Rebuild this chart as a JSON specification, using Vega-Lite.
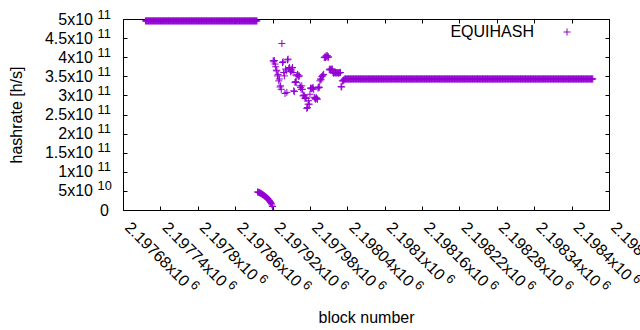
{
"$schema":"https://vega.github.io/schema/vega-lite/v6.json",
"width":486,"height":191,
"autosize":{"type":"none"},
"padding":{"left":123,"top":19,"right":31,"bottom":120},
"background":"white",
"config":{"view":{"stroke":null},
"axis":{"grid":false,"labelFont":"Liberation Sans","titleFont":"Liberation Sans","labelColor":"#000","titleColor":"#000","domainColor":"#000","tickColor":"#000","titleFontWeight":"normal","titleFontSize":16,"labelFontSize":16,"labelFlush":false,"labelOverlap":false,"labelBound":false,"labelLimit":0}},
"data":{"values":[
{"b":2197716,"h":4.95e11},{"b":2197717,"h":4.95e11},{"b":2197718,"h":4.95e11},{"b":2197719,"h":4.95e11},{"b":2197720,"h":4.95e11},{"b":2197721,"h":4.95e11},{"b":2197722,"h":4.95e11},{"b":2197723,"h":4.95e11},{"b":2197724,"h":4.95e11},{"b":2197725,"h":4.95e11},
{"b":2197726,"h":4.95e11},{"b":2197727,"h":4.95e11},{"b":2197728,"h":4.95e11},{"b":2197729,"h":4.95e11},{"b":2197730,"h":4.95e11},{"b":2197731,"h":4.95e11},{"b":2197732,"h":4.95e11},{"b":2197733,"h":4.95e11},{"b":2197734,"h":4.95e11},{"b":2197735,"h":4.95e11},
{"b":2197736,"h":4.95e11},{"b":2197737,"h":4.95e11},{"b":2197738,"h":4.95e11},{"b":2197739,"h":4.95e11},{"b":2197740,"h":4.95e11},{"b":2197741,"h":4.95e11},{"b":2197742,"h":4.95e11},{"b":2197743,"h":4.95e11},{"b":2197744,"h":4.95e11},{"b":2197745,"h":4.95e11},
{"b":2197746,"h":4.95e11},{"b":2197747,"h":4.95e11},{"b":2197748,"h":4.95e11},{"b":2197749,"h":4.95e11},{"b":2197750,"h":4.95e11},{"b":2197751,"h":4.95e11},{"b":2197752,"h":4.95e11},{"b":2197753,"h":4.95e11},{"b":2197754,"h":4.95e11},{"b":2197755,"h":4.95e11},
{"b":2197756,"h":4.95e11},{"b":2197757,"h":4.95e11},{"b":2197758,"h":4.95e11},{"b":2197759,"h":4.95e11},{"b":2197760,"h":4.95e11},{"b":2197761,"h":4.95e11},{"b":2197762,"h":4.95e11},{"b":2197763,"h":4.95e11},{"b":2197764,"h":4.95e11},{"b":2197765,"h":4.95e11},
{"b":2197766,"h":4.95e11},{"b":2197767,"h":4.95e11},{"b":2197768,"h":4.95e11},{"b":2197769,"h":4.95e11},{"b":2197770,"h":4.95e11},{"b":2197771,"h":4.95e11},{"b":2197772,"h":4.95e11},{"b":2197773,"h":4.95e11},{"b":2197774,"h":4.95e11},{"b":2197775,"h":4.95e11},
{"b":2197776,"h":4.95e11},{"b":2197777,"h":4.95e11},{"b":2197778,"h":4.95e11},{"b":2197779,"h":4.95e11},{"b":2197780,"h":4.95e11},{"b":2197781,"h":4.95e11},{"b":2197782,"h":4.95e11},{"b":2197783,"h":4.95e11},{"b":2197784,"h":4.95e11},{"b":2197785,"h":4.95e11},
{"b":2197786,"h":4.95e11},{"b":2197787,"h":4.95e11},{"b":2197788,"h":4.95e11},{"b":2197789,"h":4.95e11},{"b":2197790,"h":4.95e11},{"b":2197791,"h":4.95e11},{"b":2197792,"h":4.95e11},{"b":2197793,"h":4.95e11},{"b":2197794,"h":4.95e11},{"b":2197795,"h":4.95e11},
{"b":2197796,"h":4.95e11},{"b":2197797,"h":4.95e11},{"b":2197798,"h":4.95e11},{"b":2197799,"h":4.95e11},{"b":2197800,"h":4.95e11},{"b":2197801,"h":4.95e11},{"b":2197802,"h":4.95e11},{"b":2197803,"h":4.95e11},{"b":2197804,"h":4.95e11},{"b":2197805,"h":4.95e11},
{"b":2197806,"h":4.95e11},{"b":2197807,"h":4.95e11},{"b":2197808,"h":4.95e11},{"b":2197809,"h":4.95e11},{"b":2197810,"h":4.95e11},{"b":2197811,"h":4.95e11},{"b":2197812,"h":4.95e11},{"b":2197813,"h":4.95e11},{"b":2197814,"h":4.95e11},{"b":2197815,"h":4.95e11},
{"b":2197816,"h":4.95e11},{"b":2197817,"h":4.95e11},{"b":2197818,"h":4.95e11},{"b":2197819,"h":4.95e11},{"b":2197820,"h":4.95e11},{"b":2197821,"h":4.95e11},{"b":2197822,"h":4.95e11},{"b":2197823,"h":4.95e11},{"b":2197824,"h":4.95e11},{"b":2197825,"h":4.95e11},
{"b":2197826,"h":4.95e11},{"b":2197827,"h":4.95e11},{"b":2197828,"h":4.95e11},{"b":2197829,"h":4.95e11},{"b":2197830,"h":4.95e11},{"b":2197831,"h":4.95e11},{"b":2197832,"h":4.95e11},{"b":2197833,"h":4.95e11},{"b":2197834,"h":4.95e11},{"b":2197835,"h":4.95e11},
{"b":2197836,"h":4.95e11},{"b":2197837,"h":4.95e11},{"b":2197838,"h":4.95e11},{"b":2197839,"h":4.95e11},{"b":2197840,"h":4.95e11},{"b":2197841,"h":4.95e11},{"b":2197842,"h":4.95e11},{"b":2197843,"h":4.95e11},{"b":2197844,"h":4.95e11},{"b":2197845,"h":4.95e11},
{"b":2197846,"h":4.95e11},{"b":2197847,"h":4.95e11},{"b":2197848,"h":4.95e11},{"b":2197849,"h":4.95e11},{"b":2197850,"h":4.95e11},{"b":2197851,"h":4.95e11},{"b":2197852,"h":4.95e11},{"b":2197853,"h":4.95e11},{"b":2197854,"h":4.95e11},{"b":2197855,"h":4.95e11},
{"b":2197856,"h":4.95e11},{"b":2197857,"h":4.95e11},{"b":2197858,"h":4.95e11},{"b":2197859,"h":4.95e11},{"b":2197860,"h":4.95e11},{"b":2197861,"h":4.95e11},{"b":2197862,"h":4.95e11},{"b":2197863,"h":4.95e11},{"b":2197864,"h":4.95e11},{"b":2197865,"h":4.95e11},
{"b":2197866,"h":4.95e11},{"b":2197867,"h":4.95e11},{"b":2197868,"h":4.95e11},{"b":2197869,"h":4.95e11},{"b":2197870,"h":4.95e11},{"b":2197871,"h":4.95e11},{"b":2197872,"h":4.95e11},{"b":2197873,"h":4.95e11},{"b":2197874,"h":4.95e11},{"b":2197875,"h":4.95e11},
{"b":2197876,"h":4.95e11},{"b":2197877,"h":4.95e11},{"b":2197878,"h":4.95e11},{"b":2197879,"h":4.95e11},{"b":2197880,"h":4.95e11},{"b":2197881,"h":4.95e11},{"b":2197882,"h":4.95e11},{"b":2197883,"h":4.95e11},{"b":2197884,"h":4.95e11},{"b":2197885,"h":4.95e11},
{"b":2197886,"h":4.95e11},{"b":2197887,"h":4.95e11},{"b":2197888,"h":4.95e11},{"b":2197889,"h":4.95e11},{"b":2197890,"h":4.95e11},{"b":2197891,"h":4.95e11},{"b":2197892,"h":4.95e11},{"b":2197893,"h":4.95e11},{"b":2197894,"h":4.95e11},{"b":2197895,"h":4.95e11},
{"b":2197896,"h":4.72e10},{"b":2197897,"h":4.67e10},{"b":2197898,"h":4.62e10},{"b":2197899,"h":4.54e10},{"b":2197900,"h":4.46e10},{"b":2197901,"h":4.38e10},{"b":2197902,"h":4.28e10},{"b":2197903,"h":4.17e10},{"b":2197904,"h":4.04e10},{"b":2197905,"h":3.94e10},
{"b":2197906,"h":3.83e10},{"b":2197907,"h":3.70e10},{"b":2197908,"h":3.57e10},{"b":2197909,"h":3.46e10},{"b":2197910,"h":3.33e10},{"b":2197911,"h":3.18e10},{"b":2197912,"h":3.02e10},{"b":2197913,"h":2.86e10},{"b":2197914,"h":2.65e10},{"b":2197915,"h":2.44e10},
{"b":2197916,"h":2.23e10},{"b":2197917,"h":1.97e10},{"b":2197918,"h":1.68e10},{"b":2197919,"h":1.31e10},{"b":2197920,"h":9.2e9},
{"b":2197921,"h":3.91e11},{"b":2197922,"h":3.88e11},{"b":2197923,"h":3.91e11},{"b":2197924,"h":3.82e11},{"b":2197925,"h":3.75e11},{"b":2197926,"h":3.66e11},{"b":2197927,"h":3.64e11},{"b":2197928,"h":3.51e11},{"b":2197929,"h":3.55e11},{"b":2197930,"h":3.38e11},
{"b":2197931,"h":3.43e11},{"b":2197932,"h":3.22e11},{"b":2197933,"h":3.25e11},{"b":2197934,"h":3.16e11},{"b":2197935,"h":4.36e11},{"b":2197936,"h":3.86e11},{"b":2197937,"h":3.88e11},{"b":2197938,"h":3.60e11},{"b":2197939,"h":3.51e11},{"b":2197940,"h":3.05e11},
{"b":2197941,"h":3.69e11},{"b":2197942,"h":3.64e11},{"b":2197943,"h":3.08e11},{"b":2197944,"h":3.93e11},{"b":2197945,"h":3.95e11},{"b":2197946,"h":3.70e11},{"b":2197947,"h":3.73e11},{"b":2197948,"h":3.69e11},{"b":2197949,"h":3.62e11},{"b":2197950,"h":3.64e11},
{"b":2197951,"h":3.69e11},{"b":2197952,"h":3.73e11},{"b":2197953,"h":3.60e11},{"b":2197954,"h":3.12e11},{"b":2197955,"h":3.10e11},{"b":2197956,"h":3.34e11},{"b":2197957,"h":3.36e11},{"b":2197958,"h":3.34e11},{"b":2197959,"h":3.51e11},{"b":2197960,"h":3.55e11},
{"b":2197961,"h":3.53e11},{"b":2197962,"h":3.49e11},{"b":2197963,"h":3.51e11},{"b":2197964,"h":3.25e11},{"b":2197965,"h":3.21e11},{"b":2197966,"h":3.16e11},{"b":2197967,"h":3.25e11},{"b":2197968,"h":3.16e11},{"b":2197969,"h":2.99e11},{"b":2197970,"h":3.01e11},
{"b":2197971,"h":2.99e11},{"b":2197972,"h":2.92e11},{"b":2197973,"h":2.95e11},{"b":2197974,"h":2.92e11},{"b":2197975,"h":2.66e11},{"b":2197976,"h":2.68e11},{"b":2197977,"h":2.77e11},{"b":2197978,"h":2.86e11},{"b":2197979,"h":2.77e11},{"b":2197980,"h":3.03e11},
{"b":2197981,"h":3.19e11},{"b":2197982,"h":3.19e11},{"b":2197983,"h":3.17e11},{"b":2197984,"h":3.19e11},{"b":2197985,"h":3.21e11},{"b":2197986,"h":3.16e11},{"b":2197987,"h":2.95e11},{"b":2197988,"h":2.92e11},{"b":2197989,"h":2.90e11},{"b":2197990,"h":2.95e11},
{"b":2197991,"h":2.92e11},{"b":2197992,"h":2.90e11},{"b":2197993,"h":3.19e11},{"b":2197994,"h":3.22e11},{"b":2197995,"h":3.21e11},{"b":2197996,"h":3.38e11},{"b":2197997,"h":3.43e11},{"b":2197998,"h":3.41e11},{"b":2197999,"h":3.49e11},{"b":2198000,"h":3.51e11},
{"b":2198001,"h":3.53e11},{"b":2198002,"h":3.55e11},{"b":2198003,"h":3.99e11},{"b":2198004,"h":4.01e11},{"b":2198005,"h":3.99e11},{"b":2198006,"h":4.04e11},{"b":2198007,"h":4.01e11},{"b":2198008,"h":4.04e11},{"b":2198009,"h":3.99e11},{"b":2198010,"h":4.01e11},
{"b":2198011,"h":3.67e11},{"b":2198012,"h":3.69e11},{"b":2198013,"h":3.67e11},{"b":2198014,"h":3.69e11},{"b":2198015,"h":3.67e11},{"b":2198016,"h":3.69e11},{"b":2198017,"h":3.60e11},{"b":2198018,"h":3.58e11},{"b":2198019,"h":3.60e11},{"b":2198020,"h":3.59e11},
{"b":2198021,"h":3.60e11},{"b":2198022,"h":3.58e11},{"b":2198023,"h":3.60e11},{"b":2198024,"h":3.59e11},{"b":2198025,"h":3.60e11},{"b":2198026,"h":3.58e11},{"b":2198027,"h":3.60e11},{"b":2198028,"h":3.59e11},{"b":2198029,"h":3.60e11},{"b":2198030,"h":3.23e11},
{"b":2198031,"h":3.22e11},{"b":2198032,"h":3.38e11},{"b":2198033,"h":3.38e11},{"b":2198034,"h":3.40e11},{"b":2198035,"h":3.41e11},{"b":2198036,"h":3.43e11},
{"b":2198037,"h":3.43e11},{"b":2198038,"h":3.43e11},{"b":2198039,"h":3.43e11},{"b":2198040,"h":3.43e11},{"b":2198041,"h":3.43e11},{"b":2198042,"h":3.43e11},{"b":2198043,"h":3.43e11},{"b":2198044,"h":3.43e11},{"b":2198045,"h":3.43e11},{"b":2198046,"h":3.43e11},
{"b":2198047,"h":3.43e11},{"b":2198048,"h":3.43e11},{"b":2198049,"h":3.43e11},{"b":2198050,"h":3.43e11},{"b":2198051,"h":3.43e11},{"b":2198052,"h":3.43e11},{"b":2198053,"h":3.43e11},{"b":2198054,"h":3.43e11},{"b":2198055,"h":3.43e11},{"b":2198056,"h":3.43e11},
{"b":2198057,"h":3.43e11},{"b":2198058,"h":3.43e11},{"b":2198059,"h":3.43e11},{"b":2198060,"h":3.43e11},{"b":2198061,"h":3.43e11},{"b":2198062,"h":3.43e11},{"b":2198063,"h":3.43e11},{"b":2198064,"h":3.43e11},{"b":2198065,"h":3.43e11},{"b":2198066,"h":3.43e11},
{"b":2198067,"h":3.43e11},{"b":2198068,"h":3.43e11},{"b":2198069,"h":3.43e11},{"b":2198070,"h":3.43e11},{"b":2198071,"h":3.43e11},{"b":2198072,"h":3.43e11},{"b":2198073,"h":3.43e11},{"b":2198074,"h":3.43e11},{"b":2198075,"h":3.43e11},{"b":2198076,"h":3.43e11},
{"b":2198077,"h":3.43e11},{"b":2198078,"h":3.43e11},{"b":2198079,"h":3.43e11},{"b":2198080,"h":3.43e11},{"b":2198081,"h":3.43e11},{"b":2198082,"h":3.43e11},{"b":2198083,"h":3.43e11},{"b":2198084,"h":3.43e11},{"b":2198085,"h":3.43e11},{"b":2198086,"h":3.43e11},
{"b":2198087,"h":3.43e11},{"b":2198088,"h":3.43e11},{"b":2198089,"h":3.43e11},{"b":2198090,"h":3.43e11},{"b":2198091,"h":3.43e11},{"b":2198092,"h":3.43e11},{"b":2198093,"h":3.43e11},{"b":2198094,"h":3.43e11},{"b":2198095,"h":3.43e11},{"b":2198096,"h":3.43e11},
{"b":2198097,"h":3.43e11},{"b":2198098,"h":3.43e11},{"b":2198099,"h":3.43e11},{"b":2198100,"h":3.43e11},{"b":2198101,"h":3.43e11},{"b":2198102,"h":3.43e11},{"b":2198103,"h":3.43e11},{"b":2198104,"h":3.43e11},{"b":2198105,"h":3.43e11},{"b":2198106,"h":3.43e11},
{"b":2198107,"h":3.43e11},{"b":2198108,"h":3.43e11},{"b":2198109,"h":3.43e11},{"b":2198110,"h":3.43e11},{"b":2198111,"h":3.43e11},{"b":2198112,"h":3.43e11},{"b":2198113,"h":3.43e11},{"b":2198114,"h":3.43e11},{"b":2198115,"h":3.43e11},{"b":2198116,"h":3.43e11},
{"b":2198117,"h":3.43e11},{"b":2198118,"h":3.43e11},{"b":2198119,"h":3.43e11},{"b":2198120,"h":3.43e11},{"b":2198121,"h":3.43e11},{"b":2198122,"h":3.43e11},{"b":2198123,"h":3.43e11},{"b":2198124,"h":3.43e11},{"b":2198125,"h":3.43e11},{"b":2198126,"h":3.43e11},
{"b":2198127,"h":3.43e11},{"b":2198128,"h":3.43e11},{"b":2198129,"h":3.43e11},{"b":2198130,"h":3.43e11},{"b":2198131,"h":3.43e11},{"b":2198132,"h":3.43e11},{"b":2198133,"h":3.43e11},{"b":2198134,"h":3.43e11},{"b":2198135,"h":3.43e11},{"b":2198136,"h":3.43e11},
{"b":2198137,"h":3.43e11},{"b":2198138,"h":3.43e11},{"b":2198139,"h":3.43e11},{"b":2198140,"h":3.43e11},{"b":2198141,"h":3.43e11},{"b":2198142,"h":3.43e11},{"b":2198143,"h":3.43e11},{"b":2198144,"h":3.43e11},{"b":2198145,"h":3.43e11},{"b":2198146,"h":3.43e11},
{"b":2198147,"h":3.43e11},{"b":2198148,"h":3.43e11},{"b":2198149,"h":3.43e11},{"b":2198150,"h":3.43e11},{"b":2198151,"h":3.43e11},{"b":2198152,"h":3.43e11},{"b":2198153,"h":3.43e11},{"b":2198154,"h":3.43e11},{"b":2198155,"h":3.43e11},{"b":2198156,"h":3.43e11},
{"b":2198157,"h":3.43e11},{"b":2198158,"h":3.43e11},{"b":2198159,"h":3.43e11},{"b":2198160,"h":3.43e11},{"b":2198161,"h":3.43e11},{"b":2198162,"h":3.43e11},{"b":2198163,"h":3.43e11},{"b":2198164,"h":3.43e11},{"b":2198165,"h":3.43e11},{"b":2198166,"h":3.43e11},
{"b":2198167,"h":3.43e11},{"b":2198168,"h":3.43e11},{"b":2198169,"h":3.43e11},{"b":2198170,"h":3.43e11},{"b":2198171,"h":3.43e11},{"b":2198172,"h":3.43e11},{"b":2198173,"h":3.43e11},{"b":2198174,"h":3.43e11},{"b":2198175,"h":3.43e11},{"b":2198176,"h":3.43e11},
{"b":2198177,"h":3.43e11},{"b":2198178,"h":3.43e11},{"b":2198179,"h":3.43e11},{"b":2198180,"h":3.43e11},{"b":2198181,"h":3.43e11},{"b":2198182,"h":3.43e11},{"b":2198183,"h":3.43e11},{"b":2198184,"h":3.43e11},{"b":2198185,"h":3.43e11},{"b":2198186,"h":3.43e11},
{"b":2198187,"h":3.43e11},{"b":2198188,"h":3.43e11},{"b":2198189,"h":3.43e11},{"b":2198190,"h":3.43e11},{"b":2198191,"h":3.43e11},{"b":2198192,"h":3.43e11},{"b":2198193,"h":3.43e11},{"b":2198194,"h":3.43e11},{"b":2198195,"h":3.43e11},{"b":2198196,"h":3.43e11},
{"b":2198197,"h":3.43e11},{"b":2198198,"h":3.43e11},{"b":2198199,"h":3.43e11},{"b":2198200,"h":3.43e11},{"b":2198201,"h":3.43e11},{"b":2198202,"h":3.43e11},{"b":2198203,"h":3.43e11},{"b":2198204,"h":3.43e11},{"b":2198205,"h":3.43e11},{"b":2198206,"h":3.43e11},
{"b":2198207,"h":3.43e11},{"b":2198208,"h":3.43e11},{"b":2198209,"h":3.43e11},{"b":2198210,"h":3.43e11},{"b":2198211,"h":3.43e11},{"b":2198212,"h":3.43e11},{"b":2198213,"h":3.43e11},{"b":2198214,"h":3.43e11},{"b":2198215,"h":3.43e11},{"b":2198216,"h":3.43e11},
{"b":2198217,"h":3.43e11},{"b":2198218,"h":3.43e11},{"b":2198219,"h":3.43e11},{"b":2198220,"h":3.43e11},{"b":2198221,"h":3.43e11},{"b":2198222,"h":3.43e11},{"b":2198223,"h":3.43e11},{"b":2198224,"h":3.43e11},{"b":2198225,"h":3.43e11},{"b":2198226,"h":3.43e11},
{"b":2198227,"h":3.43e11},{"b":2198228,"h":3.43e11},{"b":2198229,"h":3.43e11},{"b":2198230,"h":3.43e11},{"b":2198231,"h":3.43e11},{"b":2198232,"h":3.43e11},{"b":2198233,"h":3.43e11},{"b":2198234,"h":3.43e11},{"b":2198235,"h":3.43e11},{"b":2198236,"h":3.43e11},
{"b":2198237,"h":3.43e11},{"b":2198238,"h":3.43e11},{"b":2198239,"h":3.43e11},{"b":2198240,"h":3.43e11},{"b":2198241,"h":3.43e11},{"b":2198242,"h":3.43e11},{"b":2198243,"h":3.43e11},{"b":2198244,"h":3.43e11},{"b":2198245,"h":3.43e11},{"b":2198246,"h":3.43e11},
{"b":2198247,"h":3.43e11},{"b":2198248,"h":3.43e11},{"b":2198249,"h":3.43e11},{"b":2198250,"h":3.43e11},{"b":2198251,"h":3.43e11},{"b":2198252,"h":3.43e11},{"b":2198253,"h":3.43e11},{"b":2198254,"h":3.43e11},{"b":2198255,"h":3.43e11},{"b":2198256,"h":3.43e11},
{"b":2198257,"h":3.43e11},{"b":2198258,"h":3.43e11},{"b":2198259,"h":3.43e11},{"b":2198260,"h":3.43e11},{"b":2198261,"h":3.43e11},{"b":2198262,"h":3.43e11},{"b":2198263,"h":3.43e11},{"b":2198264,"h":3.43e11},{"b":2198265,"h":3.43e11},{"b":2198266,"h":3.43e11},
{"b":2198267,"h":3.43e11},{"b":2198268,"h":3.43e11},{"b":2198269,"h":3.43e11},{"b":2198270,"h":3.43e11},{"b":2198271,"h":3.43e11},{"b":2198272,"h":3.43e11},{"b":2198273,"h":3.43e11},{"b":2198274,"h":3.43e11},{"b":2198275,"h":3.43e11},{"b":2198276,"h":3.43e11},
{"b":2198277,"h":3.43e11},{"b":2198278,"h":3.43e11},{"b":2198279,"h":3.43e11},{"b":2198280,"h":3.43e11},{"b":2198281,"h":3.43e11},{"b":2198282,"h":3.43e11},{"b":2198283,"h":3.43e11},{"b":2198284,"h":3.43e11},{"b":2198285,"h":3.43e11},{"b":2198286,"h":3.43e11},
{"b":2198287,"h":3.43e11},{"b":2198288,"h":3.43e11},{"b":2198289,"h":3.43e11},{"b":2198290,"h":3.43e11},{"b":2198291,"h":3.43e11},{"b":2198292,"h":3.43e11},{"b":2198293,"h":3.43e11},{"b":2198294,"h":3.43e11},{"b":2198295,"h":3.43e11},{"b":2198296,"h":3.43e11},
{"b":2198297,"h":3.43e11},{"b":2198298,"h":3.43e11},{"b":2198299,"h":3.43e11},{"b":2198300,"h":3.43e11},{"b":2198301,"h":3.43e11},{"b":2198302,"h":3.43e11},{"b":2198303,"h":3.43e11},{"b":2198304,"h":3.43e11},{"b":2198305,"h":3.43e11},{"b":2198306,"h":3.43e11},
{"b":2198307,"h":3.43e11},{"b":2198308,"h":3.43e11},{"b":2198309,"h":3.43e11},{"b":2198310,"h":3.43e11},{"b":2198311,"h":3.43e11},{"b":2198312,"h":3.43e11},{"b":2198313,"h":3.43e11},{"b":2198314,"h":3.43e11},{"b":2198315,"h":3.43e11},{"b":2198316,"h":3.43e11},
{"b":2198317,"h":3.43e11},{"b":2198318,"h":3.43e11},{"b":2198319,"h":3.43e11},{"b":2198320,"h":3.43e11},{"b":2198321,"h":3.43e11},{"b":2198322,"h":3.43e11},{"b":2198323,"h":3.43e11},{"b":2198324,"h":3.43e11},{"b":2198325,"h":3.43e11},{"b":2198326,"h":3.43e11},
{"b":2198327,"h":3.43e11},{"b":2198328,"h":3.43e11},{"b":2198329,"h":3.43e11},{"b":2198330,"h":3.43e11},{"b":2198331,"h":3.43e11},{"b":2198332,"h":3.43e11},{"b":2198333,"h":3.43e11},{"b":2198334,"h":3.43e11},{"b":2198335,"h":3.43e11},{"b":2198336,"h":3.43e11},
{"b":2198337,"h":3.43e11},{"b":2198338,"h":3.43e11},{"b":2198339,"h":3.43e11},{"b":2198340,"h":3.43e11},{"b":2198341,"h":3.43e11},{"b":2198342,"h":3.43e11},{"b":2198343,"h":3.43e11},{"b":2198344,"h":3.43e11},{"b":2198345,"h":3.43e11},{"b":2198346,"h":3.43e11},
{"b":2198347,"h":3.43e11},{"b":2198348,"h":3.43e11},{"b":2198349,"h":3.43e11},{"b":2198350,"h":3.43e11},{"b":2198351,"h":3.43e11},{"b":2198352,"h":3.43e11},{"b":2198353,"h":3.43e11},{"b":2198354,"h":3.43e11},{"b":2198355,"h":3.43e11},{"b":2198356,"h":3.43e11},
{"b":2198357,"h":3.43e11},{"b":2198358,"h":3.43e11},{"b":2198359,"h":3.43e11},{"b":2198360,"h":3.43e11},{"b":2198361,"h":3.43e11},{"b":2198362,"h":3.43e11},{"b":2198363,"h":3.43e11},{"b":2198364,"h":3.43e11},{"b":2198365,"h":3.43e11},{"b":2198366,"h":3.43e11},
{"b":2198367,"h":3.43e11},{"b":2198368,"h":3.43e11},{"b":2198369,"h":3.43e11},{"b":2198370,"h":3.43e11},{"b":2198371,"h":3.43e11},{"b":2198372,"h":3.43e11},{"b":2198373,"h":3.43e11},{"b":2198374,"h":3.43e11},{"b":2198375,"h":3.43e11},{"b":2198376,"h":3.43e11},
{"b":2198377,"h":3.43e11},{"b":2198378,"h":3.43e11},{"b":2198379,"h":3.43e11},{"b":2198380,"h":3.43e11},{"b":2198381,"h":3.43e11},{"b":2198382,"h":3.43e11},{"b":2198383,"h":3.43e11},{"b":2198384,"h":3.43e11},{"b":2198385,"h":3.43e11},{"b":2198386,"h":3.43e11},
{"b":2198387,"h":3.43e11},{"b":2198388,"h":3.43e11},{"b":2198389,"h":3.43e11},{"b":2198390,"h":3.43e11},{"b":2198391,"h":3.43e11},{"b":2198392,"h":3.43e11},{"b":2198393,"h":3.43e11},{"b":2198394,"h":3.43e11},{"b":2198395,"h":3.43e11},{"b":2198396,"h":3.43e11},
{"b":2198397,"h":3.43e11},{"b":2198398,"h":3.43e11},{"b":2198399,"h":3.43e11},{"b":2198400,"h":3.43e11},{"b":2198401,"h":3.43e11},{"b":2198402,"h":3.43e11},{"b":2198403,"h":3.43e11},{"b":2198404,"h":3.43e11},{"b":2198405,"h":3.43e11},{"b":2198406,"h":3.43e11},
{"b":2198407,"h":3.43e11},{"b":2198408,"h":3.43e11},{"b":2198409,"h":3.43e11},{"b":2198410,"h":3.43e11},{"b":2198411,"h":3.43e11},{"b":2198412,"h":3.43e11},{"b":2198413,"h":3.43e11},{"b":2198414,"h":3.43e11},{"b":2198415,"h":3.43e11},{"b":2198416,"h":3.43e11},
{"b":2198417,"h":3.43e11},{"b":2198418,"h":3.43e11},{"b":2198419,"h":3.43e11},{"b":2198420,"h":3.43e11},{"b":2198421,"h":3.43e11},{"b":2198422,"h":3.43e11},{"b":2198423,"h":3.43e11},{"b":2198424,"h":3.43e11},{"b":2198425,"h":3.43e11},{"b":2198426,"h":3.43e11},
{"b":2198427,"h":3.43e11},{"b":2198428,"h":3.43e11},{"b":2198429,"h":3.43e11},{"b":2198430,"h":3.43e11},{"b":2198431,"h":3.43e11},{"b":2198432,"h":3.43e11},{"b":2198433,"h":3.43e11},{"b":2198434,"h":3.43e11}
]},
"encoding":{
"x":{"field":"b","type":"quantitative","scale":{"domain":[2197680,2198460],"nice":false,"zero":false}},
"y":{"field":"h","type":"quantitative","scale":{"domain":[0,5e11],"nice":false,"zero":false}}
},
"layer":[
{"mark":{"type":"point","shape":"M-1,0H1M0,-1V1","filled":false,"strokeWidth":1,"size":49,"opacity":1},
"encoding":{
"x":{"field":"b","type":"quantitative","axis":{"orient":"bottom","values":[2197680,2197740,2197800,2197860,2197920,2197980,2198040,2198100,2198160,2198220,2198280,2198340,2198400,2198460],"labelExpr":"format(datum.value/1e6,'.5~f')+'x10'","labelAngle":45,"labelAlign":"left","labelBaseline":"alphabetic","labelPadding":18,"labelOffset":0.5,"ticks":false,"domain":true,"title":"block number","titleY":112.5,"titleBaseline":"alphabetic"}},
"y":{"field":"h","type":"quantitative","axis":{"orient":"left","values":[0,5e10,1e11,1.5e11,2e11,2.5e11,3e11,3.5e11,4e11,4.5e11,5e11],"labelExpr":"datum.value==0?'':format(datum.value/pow(10,floor(log(datum.value)/LN10+1e-9)),'~g')+'x10'","labelAlign":"right","labelBaseline":"middle","labelPadding":30.5,"ticks":false,"domain":true,"title":"hashrate [h/s]","titleAngle":-90,"titleX":-101.5,"titleBaseline":"alphabetic"}},
"color":{"datum":"EQUIHASH","type":"nominal","scale":{"range":["#9400D3"]},"legend":{"orient":"none","legendX":436,"legendY":5,"title":null,"padding":0,"labelAlign":"right","labelOffset":-41,"labelFontSize":16,"labelFont":"Liberation Sans","labelColor":"#000","labelBaseline":"middle","symbolType":"M-1,0H1M0,-1V1","symbolSize":49,"symbolStrokeWidth":1,"symbolFillColor":"transparent"}}
}},
{"mark":{"type":"point","opacity":0},
"encoding":{
"x":{"field":"b","type":"quantitative","axis":{"orient":"bottom","values":[2197680,2197740,2197800,2197860,2197920,2197980,2198040,2198100,2198160,2198220,2198280,2198340,2198400,2198460],"labelExpr":"'6'","labelFontSize":12.8,"labelAngle":45,"labelAlign":"left","labelBaseline":"alphabetic","labelOffset":{"condition":{"test":"datum.value % 100 == 0","value":60},"value":66.3},"labelPadding":{"condition":{"test":"datum.value % 100 == 0","value":69},"value":75.3},"ticks":false,"domain":false,"title":null}},
"y":{"field":"h","type":"quantitative","axis":{"orient":"left","values":[0,5e10,1e11,1.5e11,2e11,2.5e11,3e11,3.5e11,4e11,4.5e11,5e11],"labelExpr":"datum.value==0?'0':''+floor(log(datum.value)/LN10+1e-9)","labelFontSize":{"condition":{"test":"datum.value == 0","value":16},"value":12.8},"labelAlign":{"condition":{"test":"datum.value == 0","value":"right"},"value":"left"},"labelBaseline":"middle","labelOffset":{"condition":{"test":"datum.value == 0","value":0},"value":-5},"labelPadding":{"condition":{"test":"datum.value == 0","value":14.5},"value":25.9},"ticks":false,"domain":false,"title":null}}
}},
{"mark":{"type":"point","opacity":0},
"encoding":{
"x":{"field":"b","type":"quantitative","axis":{"orient":"top","values":[2197680,2197740,2197800,2197860,2197920,2197980,2198040,2198100,2198160,2198220,2198280,2198340,2198400,2198460],"labels":false,"ticks":true,"tickSize":-4,"domain":true,"title":null}},
"y":{"field":"h","type":"quantitative","axis":{"orient":"right","values":[0,5e10,1e11,1.5e11,2e11,2.5e11,3e11,3.5e11,4e11,4.5e11,5e11],"labels":false,"ticks":true,"tickSize":-4,"domain":true,"title":null}}
}},
{"mark":{"type":"point","opacity":0},
"encoding":{
"x":{"field":"b","type":"quantitative","axis":{"orient":"bottom","values":[2197680,2197740,2197800,2197860,2197920,2197980,2198040,2198100,2198160,2198220,2198280,2198340,2198400,2198460],"labels":false,"ticks":true,"tickSize":-4,"domain":false,"title":null}},
"y":{"field":"h","type":"quantitative","axis":{"orient":"left","values":[0,5e10,1e11,1.5e11,2e11,2.5e11,3e11,3.5e11,4e11,4.5e11,5e11],"labels":false,"ticks":true,"tickSize":-4,"domain":false,"title":null}}
}}
],
"resolve":{"axis":{"x":"independent","y":"independent"}}
}
